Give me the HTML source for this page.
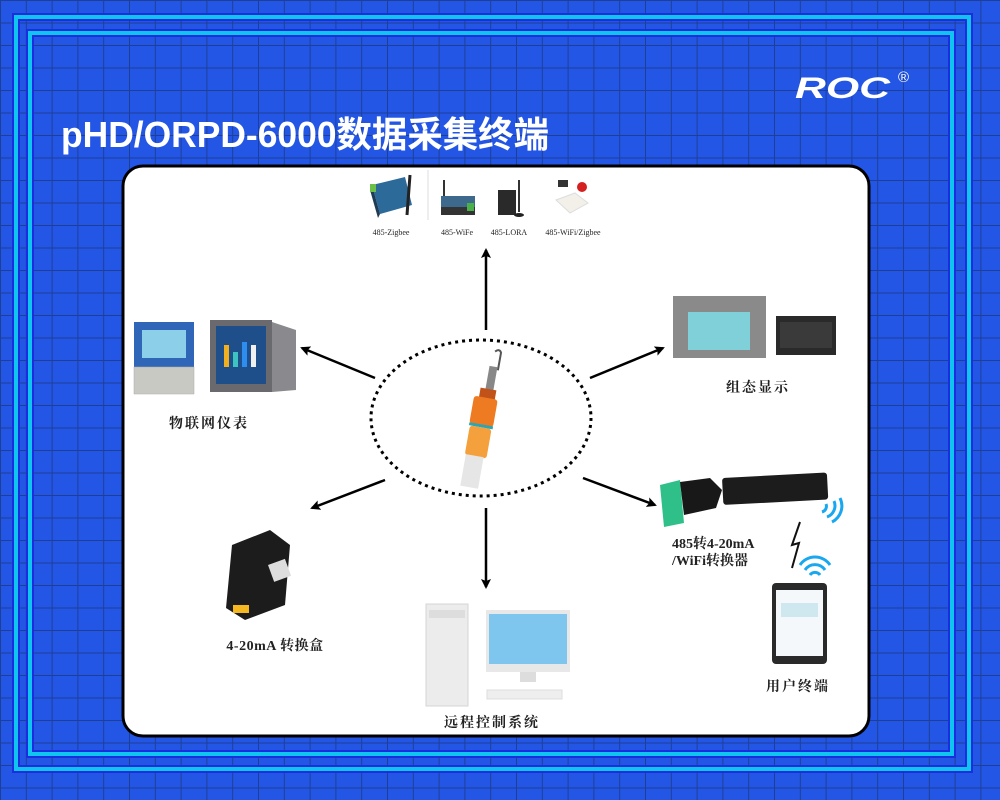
<!DOCTYPE html>
<html><head><meta charset="utf-8"><style>
html,body{margin:0;padding:0;width:1000px;height:800px;overflow:hidden}
body{background:#2456e6}
</style></head><body>
<svg width="1000" height="800" viewBox="0 0 1000 800" xmlns="http://www.w3.org/2000/svg">
<defs>
<pattern id="g" width="25.8" height="22.5" patternUnits="userSpaceOnUse" x="0" y="0">
<rect width="25.8" height="22.5" fill="#2456e6"/>
<path d="M0 0H25.8M0 0V22.5" stroke="#1d3f96" stroke-width="2" fill="none"/>
</pattern>
<marker id="ah" markerWidth="10" markerHeight="10" refX="8" refY="5" orient="auto" markerUnits="userSpaceOnUse" viewBox="0 0 10 10">
<path d="M0 0L10 5L0 10L2 5Z" fill="#000"/>
</marker>
</defs>
<rect width="1000" height="800" fill="url(#g)"/>
<rect x="16" y="17" width="953" height="752" fill="none" stroke="#1a2ee0" stroke-width="8"/>
<rect x="16" y="17" width="953" height="752" fill="none" stroke="#0fc4ef" stroke-width="4"/>
<rect x="30" y="33" width="922" height="721" fill="none" stroke="#1a2ee0" stroke-width="8"/>
<rect x="30" y="33" width="922" height="721" fill="none" stroke="#0fc4ef" stroke-width="4"/>
<text x="61" y="147" fill="#fff" font-family="Liberation Sans, 'Noto Sans CJK SC', sans-serif" font-size="36" font-weight="bold" textLength="488" lengthAdjust="spacingAndGlyphs">pHD/ORPD-6000数据采集终端</text>
<text x="795" y="98" fill="#fff" font-family="Liberation Sans, sans-serif" font-size="30" font-weight="bold" font-style="italic" textLength="95" lengthAdjust="spacingAndGlyphs">ROC</text>
<text x="898" y="82" fill="#fff" font-family="Liberation Sans, sans-serif" font-size="15">®</text>
<rect x="123" y="166" width="746" height="570" rx="20" fill="#fff" stroke="#000" stroke-width="3"/>

<ellipse cx="481" cy="418" rx="110" ry="78" fill="none" stroke="#000" stroke-width="3" stroke-dasharray="3,4"/>
<g stroke="#000" stroke-width="2.5" marker-end="url(#ah)">
<line x1="486" y1="330" x2="486" y2="250"/>
<line x1="375" y1="378" x2="302" y2="348"/>
<line x1="590" y1="378" x2="663" y2="348"/>
<line x1="385" y1="480" x2="312" y2="508"/>
<line x1="583" y1="478" x2="655" y2="505"/>
<line x1="486" y1="508" x2="486" y2="587"/>
</g>
<g transform="rotate(10 480 420)">
<path d="M483 350 q4 -4 6 0 v18" stroke="#555" stroke-width="2" fill="none"/>
<rect x="480" y="365" width="8" height="25" fill="#888"/>
<rect x="475" y="388" width="16" height="10" fill="#c0521a"/>
<rect x="470" y="397" width="24" height="28" rx="3" fill="#ee7a22"/>
<rect x="470" y="424" width="24" height="3" fill="#2aa6b5"/>
<rect x="471" y="427" width="22" height="30" rx="3" fill="#f4a03c"/>
<rect x="472" y="456" width="18" height="32" fill="#e6e6e6"/>
</g>

<g>
<polygon points="372,185 405,177 412,205 380,214" fill="#2c6a9a"/>
<polygon points="372,185 380,214 378,218 370,190" fill="#1f3c55"/>
<rect x="370" y="184" width="6" height="8" fill="#6cc04a"/>
<line x1="410" y1="175" x2="407" y2="215" stroke="#222" stroke-width="3"/>
<line x1="428" y1="170" x2="428" y2="220" stroke="#ddd"/>
<line x1="444" y1="180" x2="444" y2="200" stroke="#333" stroke-width="2"/>
<rect x="441" y="196" width="34" height="18" fill="#3d6a8c"/>
<rect x="441" y="207" width="34" height="8" fill="#333"/>
<rect x="467" y="203" width="7" height="8" fill="#4ab04a"/>
<line x1="519" y1="180" x2="519" y2="212" stroke="#333" stroke-width="2"/>
<rect x="498" y="190" width="18" height="25" fill="#2a2a2a"/>
<ellipse cx="519" cy="215" rx="5" ry="2" fill="#222"/>
<rect x="558" y="180" width="10" height="7" fill="#333"/>
<circle cx="582" cy="187" r="5" fill="#d42020"/>
<polygon points="556,200 575,193 588,203 570,213" fill="#f2f0e8" stroke="#ddd"/>
</g>
<g font-family="'Liberation Serif','Noto Serif CJK SC',serif" font-size="8" fill="#222" text-anchor="middle">
<text x="391" y="235">485-Zigbee</text>
<text x="457" y="235">485-WiFe</text>
<text x="509" y="235">485-LORA</text>
<text x="573" y="235">485-WiFi/Zigbee</text>
</g>

<rect x="134" y="322" width="60" height="72" rx="2" fill="#c9c9c4"/>
<rect x="134" y="322" width="60" height="45" fill="#2f66b8"/>
<rect x="142" y="330" width="44" height="28" fill="#8bd0e8"/>
<rect x="134" y="367" width="60" height="27" fill="#c9c9c4" stroke="#aaa" stroke-width="0.5"/>
<rect x="210" y="320" width="62" height="72" fill="#6a6a6e"/>
<rect x="216" y="326" width="50" height="58" fill="#1f4f8a"/>
<rect x="224" y="345" width="5" height="22" fill="#f0b020"/>
<rect x="233" y="352" width="5" height="15" fill="#3ec4c0"/>
<rect x="242" y="342" width="5" height="25" fill="#2d8ef0"/>
<rect x="251" y="345" width="5" height="22" fill="#f0f0f0"/>
<polygon points="272,322 296,330 296,390 272,392" fill="#8a8a8e"/>
<rect x="673" y="296" width="93" height="62" fill="#8a8a8a"/>
<rect x="688" y="312" width="62" height="38" fill="#7fd0d8"/>
<rect x="776" y="316" width="60" height="39" fill="#2a2a2a"/>
<rect x="780" y="322" width="52" height="26" fill="#3a3a3a"/>
<polygon points="660,485 680,480 684,523 664,527" fill="#2fc08a"/>
<polygon points="680,482 710,478 722,490 716,508 684,515" fill="#181818"/>
<rect x="722" y="478" width="105" height="27" rx="3" fill="#1c1c1c" transform="rotate(-3 722 478)"/>
<path d="M800 522 L792 545 L799 543 L792 568" stroke="#111" stroke-width="2" fill="none"/>
<g fill="none" stroke="#19a8f0" stroke-width="3">
<path d="M822 512 a6 6 0 0 0 4 -8"/><path d="M827 517 a12 12 0 0 0 7 -16"/><path d="M832 522 a18 18 0 0 0 8 -24"/>
<path d="M810 575 a6 6 0 0 1 10 0"/><path d="M805 570 a12 12 0 0 1 20 0"/><path d="M800 565 a18 18 0 0 1 30 0"/>
</g>
<rect x="772" y="583" width="55" height="81" rx="4" fill="#2a2a2a"/>
<rect x="776" y="590" width="47" height="66" fill="#f4f8fa"/>
<rect x="781" y="603" width="37" height="14" fill="#cfe8f0"/>
<polygon points="232,545 270,530 290,545 285,605 245,620 226,608" fill="#1c1c1c"/>
<rect x="233" y="605" width="16" height="8" fill="#f5b820"/>
<rect x="268" y="565" width="18" height="18" fill="#ddd" transform="rotate(-20 268 565)"/>
<rect x="426" y="604" width="42" height="102" fill="#ececec" stroke="#d5d5d5"/>
<rect x="429" y="610" width="36" height="8" fill="#ddd"/>
<rect x="486" y="610" width="84" height="62" fill="#e8e8e8"/>
<rect x="489" y="614" width="78" height="50" fill="#7ec6ee"/>
<rect x="520" y="672" width="16" height="10" fill="#ddd"/>
<rect x="487" y="690" width="75" height="9" fill="#eee" stroke="#ddd"/>

<g font-family="'Liberation Serif','Noto Serif CJK SC',serif" font-size="14" font-weight="bold" fill="#222" letter-spacing="2">
<text x="209" y="428" text-anchor="middle">物联网仪表</text>
<text x="758" y="392" text-anchor="middle">组态显示</text>
<text x="672" y="548" letter-spacing="0">485转4-20mA</text>
<text x="672" y="565" letter-spacing="0">/WiFi转换器</text>
<text x="798" y="691" text-anchor="middle">用户终端</text>
<text x="275" y="650" text-anchor="middle" letter-spacing="0.5">4-20mA 转换盒</text>
<text x="492" y="727" text-anchor="middle">远程控制系统</text>
</g>
</svg>
</body></html>
